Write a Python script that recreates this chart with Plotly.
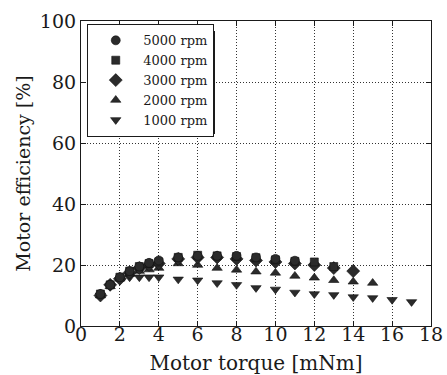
import plotly.graph_objects as go

# ---- data ----
x_5000 = [1, 1.5, 2, 2.5, 3, 3.5, 4, 5, 6, 7, 8, 9, 10, 11]
y_5000 = [10.5, 13.5, 16, 18, 19.5, 20.7, 21.5, 22.5, 23, 23, 23, 22.5, 22, 21.4]

x_4000 = [1, 1.5, 2, 2.5, 3, 3.5, 4, 5, 6, 7, 8, 9, 10, 11, 12, 13]
y_4000 = [10.5, 13.5, 16, 18, 19.5, 20.5, 21, 22.5, 23.2, 23, 22.8, 22.4, 21.7, 21.2, 21, 19.5]

x_3000 = [1, 1.5, 2, 2.5, 3, 3.5, 4, 5, 6, 7, 8, 9, 10, 11, 12, 13, 14]
y_3000 = [10, 13.5, 15.5, 17.5, 19, 20, 20.5, 22, 22.5, 22.5, 22, 21.5, 21, 20.5, 20, 19, 18]

x_2000 = [1, 1.5, 2, 2.5, 3, 3.5, 4, 5, 6, 7, 8, 9, 10, 11, 12, 13, 14, 15]
y_2000 = [10, 13, 15.5, 17, 18, 18.5, 19, 20.5, 20, 19, 18.4, 17.8, 17.4, 16.4, 15.8, 15, 14.5, 14.1]

x_1000 = [1, 1.5, 2, 2.5, 3, 3.5, 4, 5, 6, 7, 8, 9, 10, 11, 12, 13, 14, 15, 16, 17]
y_1000 = [10, 13, 15, 16, 16, 16, 16, 15.3, 15, 14.1, 13.5, 12.5, 12, 11, 10.5, 10.2, 9.5, 9.2, 8.6, 7.9]

series_names = ["5000 rpm", "4000 rpm", "3000 rpm", "2000 rpm", "1000 rpm"]
series_x = [x_5000, x_4000, x_3000, x_2000, x_1000]
series_y = [y_5000, y_4000, y_3000, y_2000, y_1000]
symbols = ["circle", "square", "diamond", "triangle-up", "triangle-down"]
sizes = [9, 8, 10, 9, 9]

x_ticks = [0, 2, 4, 6, 8, 10, 12, 14, 16, 18]
y_ticks = [0, 20, 40, 60, 80, 100]

FONT = "DejaVu Serif"
INK = "#1a1a1a"

fig = go.Figure()
# draw in reverse so the high-rpm series end up on top
for name, xs, ys, sym, sz in list(zip(series_names, series_x, series_y, symbols, sizes))[::-1]:
    fig.add_trace(go.Scatter(
        x=xs, y=ys, mode="markers", name=name,
        marker=dict(symbol=sym, size=sz, color="#2b2b2b",
                    line=dict(color="#111", width=0.6)),
    ))

axis_common = dict(
    showline=True, linecolor=INK, linewidth=1.2, mirror="ticks",
    ticks="inside", ticklen=5, tickwidth=1, tickcolor=INK,
    showgrid=True, gridcolor="#333", gridwidth=1, griddash="1px,2px",
    zeroline=False, automargin=False,
    tickfont=dict(family=FONT, size=19, color=INK),
)

# legend drop shadow (decoration, paper coordinates)
fig.add_shape(type="rect", xref="paper", yref="paper", layer="above",
              x0=(91 - 81) / 350, x1=(215 - 81) / 350,
              y0=(326 - 134) / 305, y1=(326 - 31) / 305,
              line=dict(width=0), fillcolor=INK)

fig.update_layout(
    width=447, height=375,
    margin=dict(l=81, r=16, t=21, b=49),
    paper_bgcolor="white", plot_bgcolor="white",
    showlegend=True,
    legend=dict(
        x=0.017, y=0.99, xanchor="left", yanchor="top",
        bgcolor="white", bordercolor=INK, borderwidth=1.3,
        font=dict(family=FONT, size=13, color=INK),
        traceorder="reversed", itemwidth=45,
    ),
    xaxis=dict(range=[0, 18], tickvals=x_ticks, ticklabelstandoff=-9,
               title=dict(text="Motor torque [mNm]", standoff=18,
                          font=dict(family=FONT, size=20, color=INK)),
               **axis_common),
    yaxis=dict(range=[0, 100], tickvals=y_ticks,
               title=dict(text="Motor efficiency [%]", standoff=4,
                          font=dict(family=FONT, size=19, color=INK)),
               **axis_common),
)

fig.write_html("out.html")
